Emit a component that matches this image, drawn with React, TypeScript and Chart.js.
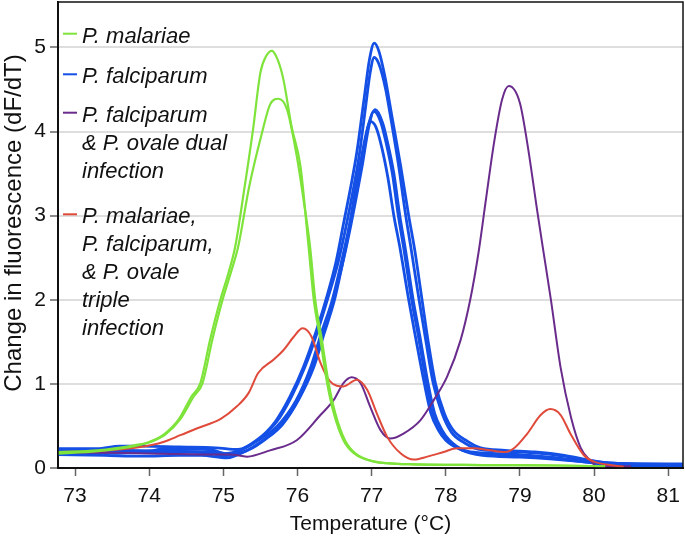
import React, { useEffect, useRef } from "react";
import { Chart, registerables } from "chart.js";

Chart.register(...registerables);

// ---- axis values ----
const X_MIN = 72.77;
const X_MAX = 81.2;
const Y_MIN = 0;
const Y_MAX = 5.54;
const xTickValues = [73, 74, 75, 76, 77, 78, 79, 80, 81];
const yTickValues = [0, 1, 2, 3, 4, 5];
const X_TITLE = "Temperature (°C)";
const Y_TITLE = "Change in fluorescence (dF/dT)";

// ---- P. malariae (green) ----
const malariae1X = [72.77, 73.3, 73.8, 74.0, 74.2, 74.4, 74.57, 74.69, 74.82, 74.96, 75.07, 75.16, 75.28, 75.40, 75.50, 75.58, 75.655, 75.73, 75.81, 75.92, 76.04, 76.15, 76.22, 76.31, 76.40, 76.49, 76.62, 76.76, 77.03, 77.5, 78.5, 79.5, 80.15];
const malariae1Y = [0.17, 0.20, 0.26, 0.31, 0.40, 0.58, 0.85, 1.01, 1.52, 2.0, 2.32, 2.63, 3.3, 4.02, 4.70, 4.90, 4.96, 4.86, 4.62, 4.06, 3.59, 2.63, 2.0, 1.52, 1.01, 0.65, 0.33, 0.175, 0.075, 0.045, 0.035, 0.03, 0.02];
const malariae2X = [72.77, 73.3, 73.8, 74.02, 74.22, 74.42, 74.6, 74.72, 74.85, 74.99, 75.10, 75.20, 75.35, 75.52, 75.63, 75.744, 75.86, 75.99, 76.08, 76.17, 76.24, 76.33, 76.42, 76.51, 76.64, 76.78, 77.05, 77.5, 78.5, 79.5, 80.15];
const malariae2Y = [0.19, 0.21, 0.27, 0.31, 0.40, 0.58, 0.85, 1.01, 1.52, 2.0, 2.32, 2.63, 3.35, 3.98, 4.32, 4.39, 4.26, 3.71, 3.2, 2.63, 2.0, 1.52, 1.01, 0.65, 0.33, 0.175, 0.075, 0.045, 0.035, 0.03, 0.02];

// ---- P. falciparum (blue) ----
const falc1X = [72.77, 73.3, 73.6, 73.9, 74.4, 74.9, 75.2, 75.45, 75.7, 75.9, 76.08, 76.25, 76.4, 76.52, 76.62, 76.72, 76.8, 76.9, 76.97, 77.035, 77.1, 77.18, 77.27, 77.39, 77.5, 77.58, 77.68, 77.76, 77.86, 77.98, 78.1, 78.29, 78.47, 78.8, 79.2, 79.6, 79.9, 80.2, 80.6, 81.2];
const falc1Y = [0.23, 0.23, 0.26, 0.26, 0.25, 0.24, 0.22, 0.33, 0.55, 0.85, 1.2, 1.62, 2.05, 2.45, 2.9, 3.35, 3.75, 4.4, 4.85, 5.05, 4.95, 4.65, 4.2, 3.6, 3.0, 2.6, 2.0, 1.52, 1.01, 0.65, 0.45, 0.32, 0.24, 0.21, 0.19, 0.15, 0.1, 0.06, 0.05, 0.05];
const falc2X = [72.77, 73.2, 73.7, 74.3, 74.8, 75.0, 75.25, 75.5, 75.72, 75.92, 76.1, 76.27, 76.42, 76.55, 76.65, 76.75, 76.83, 76.92, 76.98, 77.035, 77.1, 77.19, 77.27, 77.36, 77.46, 77.53, 77.64, 77.73, 77.83, 77.95, 78.08, 78.25, 78.45, 78.8, 79.2, 79.6, 79.9, 80.2, 80.6, 81.2];
const falc2Y = [0.2, 0.2, 0.21, 0.2, 0.19, 0.17, 0.22, 0.36, 0.55, 0.85, 1.2, 1.62, 2.05, 2.45, 2.85, 3.3, 3.7, 4.3, 4.7, 4.88, 4.8, 4.5, 4.1, 3.62, 3.0, 2.62, 2.0, 1.52, 1.01, 0.65, 0.42, 0.3, 0.22, 0.2, 0.18, 0.14, 0.09, 0.06, 0.05, 0.04];
const falc3X = [72.77, 73.3, 73.8, 74.3, 74.8, 75.0, 75.25, 75.47, 75.72, 75.98, 76.18, 76.32, 76.47, 76.58, 76.68, 76.78, 76.87, 76.95, 77.05, 77.15, 77.22, 77.3, 77.38, 77.45, 77.56, 77.66, 77.76, 77.85, 77.95, 78.05, 78.25, 78.5, 79.0, 79.4, 79.8, 80.1, 80.5, 81.2];
const falc3Y = [0.18, 0.17, 0.19, 0.19, 0.18, 0.14, 0.22, 0.33, 0.49, 0.8, 1.2, 1.6, 2.0, 2.4, 2.8, 3.25, 3.63, 4.05, 4.26, 4.1, 3.85, 3.5, 3.0, 2.63, 2.0, 1.52, 1.01, 0.65, 0.45, 0.33, 0.21, 0.18, 0.16, 0.13, 0.09, 0.05, 0.03, 0.03];
const falc4X = [72.77, 73.4, 73.9, 74.4, 74.7, 75.05, 75.3, 75.52, 75.76, 76.0, 76.2, 76.34, 76.48, 76.6, 76.7, 76.8, 76.88, 76.96, 77.03, 77.12, 77.2, 77.28, 77.36, 77.43, 77.54, 77.64, 77.74, 77.83, 77.93, 78.03, 78.22, 78.5, 79.0, 79.4, 79.8, 80.1, 80.5, 81.2];
const falc4Y = [0.16, 0.15, 0.14, 0.15, 0.15, 0.12, 0.2, 0.32, 0.49, 0.8, 1.2, 1.6, 2.0, 2.4, 2.8, 3.25, 3.63, 4.05, 4.24, 4.12, 3.85, 3.5, 3.0, 2.63, 2.0, 1.52, 1.01, 0.65, 0.45, 0.33, 0.21, 0.15, 0.13, 0.11, 0.08, 0.05, 0.03, 0.03];
const falc5X = [72.77, 73.6, 74.0, 74.2, 74.8, 75.1, 75.35, 75.58, 75.8, 76.02, 76.22, 76.36, 76.5, 76.6, 76.7, 76.78, 76.85, 76.92, 76.98, 77.06, 77.14, 77.22, 77.3, 77.38, 77.5, 77.6, 77.71, 77.8, 77.9, 78.0, 78.2, 78.5, 79.0, 79.4, 79.8, 80.1, 80.5, 81.2];
const falc5Y = [0.19, 0.18, 0.2, 0.23, 0.22, 0.16, 0.22, 0.35, 0.52, 0.82, 1.2, 1.6, 2.0, 2.4, 2.85, 3.3, 3.63, 3.95, 4.12, 4.05, 3.8, 3.45, 3.0, 2.63, 2.0, 1.52, 1.01, 0.65, 0.45, 0.33, 0.22, 0.16, 0.14, 0.12, 0.08, 0.05, 0.04, 0.04];

// ---- P. falciparum & P. ovale dual infection (purple) ----
const dualX = [72.77, 73.5, 74.2, 74.8, 75.1, 75.32, 75.63, 75.99, 76.31, 76.49, 76.62, 76.73, 76.85, 76.98, 77.12, 77.25, 77.43, 77.66, 77.84, 78.02, 78.20, 78.33, 78.44, 78.54, 78.65, 78.76, 78.85, 79.0, 79.10, 79.24, 79.35, 79.42, 79.55, 79.69, 79.82, 79.96, 80.04, 80.5];
const dualY = [0.18, 0.18, 0.17, 0.16, 0.16, 0.135, 0.21, 0.33, 0.63, 0.81, 1.01, 1.08, 1.01, 0.73, 0.45, 0.35, 0.41, 0.57, 0.81, 1.09, 1.52, 2.0, 2.55, 3.18, 3.86, 4.38, 4.54, 4.34, 3.86, 3.02, 2.39, 1.99, 1.19, 0.60, 0.24, 0.08, 0.02, 0.02];

// ---- triple infection (red) ----
const tripleX = [72.77, 73.3, 73.88, 74.19, 74.42, 74.64, 74.96, 75.18, 75.34, 75.47, 75.68, 75.81, 75.95, 76.07, 76.19, 76.31, 76.44, 76.62, 76.80, 76.94, 77.07, 77.21, 77.39, 77.57, 77.75, 77.97, 78.15, 78.38, 78.6, 78.80, 78.92, 79.10, 79.28, 79.41, 79.55, 79.68, 79.86, 80.0, 80.22, 80.40];
const tripleY = [0.19, 0.20, 0.25, 0.31, 0.39, 0.47, 0.58, 0.73, 0.89, 1.13, 1.29, 1.40, 1.56, 1.66, 1.56, 1.25, 1.03, 0.97, 1.05, 0.93, 0.65, 0.37, 0.175, 0.10, 0.135, 0.19, 0.235, 0.235, 0.21, 0.19, 0.235, 0.41, 0.63, 0.70, 0.63, 0.41, 0.155, 0.075, 0.035, 0.015];

// ---- legend ----
const legendLabels = [
  ["P. malariae"],
  ["P. falciparum"],
  ["P. falciparum", "& P. ovale dual", "infection"],
  ["P. malariae,", "P. falciparum,", "& P. ovale", "triple", "infection"],
];

const GREEN = "#7ee33a";
const BLUE = "#1450e6";
const PURPLE = "#6a2c8c";
const RED = "#e04a3a";
const legendColors = [GREEN, BLUE, PURPLE, RED];
const legendBaselines = [42.7, 83.3, 121.7, 223.3];

const FONT = '"Liberation Sans", Arial, Helvetica, sans-serif';

function pts(xs: number[], ys: number[]) {
  return xs.map((x, i) => ({ x, y: ys[i] }));
}

const insideLegend = {
  id: "insideLegend",
  afterDatasetsDraw(chart: any) {
    const ctx = chart.ctx as CanvasRenderingContext2D;
    ctx.save();
    ctx.font = `italic 22px ${FONT}`;
    ctx.textBaseline = "alphabetic";
    ctx.textAlign = "left";
    legendLabels.forEach((lines, i) => {
      const base = legendBaselines[i];
      ctx.strokeStyle = legendColors[i];
      ctx.lineWidth = 2;
      ctx.beginPath();
      ctx.moveTo(63, base - 9);
      ctx.lineTo(77, base - 9);
      ctx.stroke();
      ctx.fillStyle = "#111";
      lines.forEach((t, j) => ctx.fillText(t, 82, base + j * 28));
    });
    ctx.restore();
  },
};

const frameAndTitle = {
  id: "frameAndTitle",
  afterDraw(chart: any) {
    const { ctx, chartArea } = chart;
    ctx.save();
    ctx.strokeStyle = "#111";
    ctx.lineWidth = 1.5;
    ctx.strokeRect(chartArea.left, chartArea.top, chartArea.right - chartArea.left, chartArea.bottom - chartArea.top);
    ctx.translate(14, 223);
    ctx.rotate(-Math.PI / 2);
    ctx.font = `24px ${FONT}`;
    ctx.fillStyle = "#111";
    ctx.textAlign = "center";
    ctx.textBaseline = "middle";
    ctx.fillText(Y_TITLE, 0, 0);
    ctx.restore();
  },
};

export default function App() {
  const ref = useRef<HTMLCanvasElement | null>(null);

  useEffect(() => {
    if (!ref.current) return;
    const line = (label: string, xs: number[], ys: number[], color: string, width: number) => ({
      label,
      data: pts(xs, ys),
      borderColor: color,
      backgroundColor: color,
      borderWidth: width,
      pointRadius: 0,
      fill: false,
      cubicInterpolationMode: "monotone" as const,
    });
    const chart = new Chart(ref.current, {
      type: "line",
      data: {
        datasets: [
          line("P. malariae", malariae1X, malariae1Y, GREEN, 2.2),
          line("P. malariae", malariae2X, malariae2Y, GREEN, 2.2),
          line("triple", tripleX, tripleY, RED, 2),
          line("dual", dualX, dualY, PURPLE, 2),
          line("P. falciparum", falc1X, falc1Y, BLUE, 2.8),
          line("P. falciparum", falc2X, falc2Y, BLUE, 2.8),
          line("P. falciparum", falc3X, falc3Y, BLUE, 2.8),
          line("P. falciparum", falc4X, falc4Y, BLUE, 2.8),
          line("P. falciparum", falc5X, falc5Y, BLUE, 2.8),
        ],
      },
      options: {
        animation: false,
        responsive: false,
        maintainAspectRatio: false,
        layout: { padding: { top: 2, right: 2, left: 0, bottom: 0 } },
        plugins: { legend: { display: false }, tooltip: { enabled: false } },
        scales: {
          x: {
            type: "linear",
            min: X_MIN,
            max: X_MAX,
            afterBuildTicks: (s: any) => {
              s.ticks = xTickValues.map((v) => ({ value: v }));
            },
            afterFit: (s: any) => {
              s.height = 77;
              s.paddingLeft = 0;
              s.paddingRight = 0;
            },
            ticks: { color: "#111", font: { family: FONT, size: 21 }, padding: 8, callback: (v: any) => String(v) },
            grid: { drawOnChartArea: false, drawTicks: true, tickLength: 8, tickColor: "#666", tickWidth: 1.5 },
            border: { display: true, color: "#111", width: 2 },
            title: { display: true, text: X_TITLE, color: "#111", font: { family: FONT, size: 21 }, padding: { top: 0, bottom: 8 } },
          },
          y: {
            type: "linear",
            min: Y_MIN,
            max: Y_MAX,
            afterBuildTicks: (s: any) => {
              s.ticks = yTickValues.map((v) => ({ value: v }));
            },
            afterFit: (s: any) => {
              s.width = 58;
              s.paddingTop = 0;
              s.paddingBottom = 0;
            },
            ticks: { color: "#111", font: { family: FONT, size: 21 }, padding: 4, callback: (v: any) => String(v) },
            grid: { color: "#dedede", lineWidth: 2, drawTicks: true, tickLength: 8, tickColor: "#666", tickWidth: 1.5 },
            border: { display: true, color: "#111", width: 2 },
            title: { display: false },
          },
        },
      },
      plugins: [insideLegend, frameAndTitle],
    });
    return () => chart.destroy();
  }, []);

  return (
    <div style={{ position: "absolute", left: 0, top: 0, width: 685, height: 545, background: "#fff" }}>
      <canvas ref={ref} width={685} height={545} style={{ display: "block" }} />
    </div>
  );
}
